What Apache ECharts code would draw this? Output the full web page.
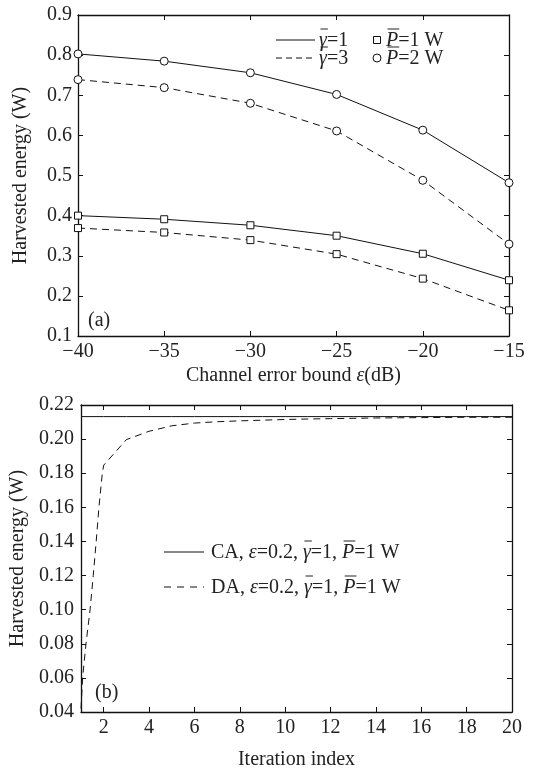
<!DOCTYPE html>
<html><head><meta charset="utf-8">
<script src="https://cdn.jsdelivr.net/npm/echarts@6/dist/echarts.min.js"></script>
<style>html,body{margin:0;padding:0;background:#fff}#c{width:537px;height:771px}</style>
</head><body><div id="c"></div>
<script>
// ---- Data (a) ----
const epsDb = [-40, -35, -30, -25, -20, -15];
const g1P2 = [0.803, 0.785, 0.756, 0.702, 0.613, 0.482];
const g3P2 = [0.739, 0.719, 0.680, 0.611, 0.488, 0.329];
const g1P1 = [0.400, 0.391, 0.376, 0.350, 0.305, 0.239];
const g3P1 = [0.369, 0.358, 0.339, 0.304, 0.243, 0.164];
// ---- Data (b) ----
const caIter = [1, 2, 3, 4, 5, 6, 7, 8, 9, 10, 11, 12, 13, 14, 15, 16, 17, 18, 19, 20];
const caVals = [0.2132, 0.2132, 0.2132, 0.2132, 0.2132, 0.2132, 0.2132, 0.2132, 0.2132, 0.2132,
                0.2132, 0.2132, 0.2132, 0.2132, 0.2132, 0.2132, 0.2132, 0.2132, 0.2132, 0.2132];
const daIter = [1, 1.07, 1.22, 1.40, 1.54, 1.67, 1.79, 1.94, 2, 3, 4, 5, 6, 7, 8, 9, 10, 11, 12, 13, 14, 15, 16, 17, 18, 19, 20];
const daVals = [0.042, 0.06, 0.08, 0.10, 0.12, 0.14, 0.16, 0.18, 0.1847, 0.1997, 0.2046, 0.2078, 0.2094, 0.2102, 0.2107,
                0.2111, 0.2115, 0.2118, 0.2120, 0.2122, 0.2124, 0.2125, 0.2126, 0.2127, 0.2128, 0.2128, 0.2128];
const xTicksB = [2, 4, 6, 8, 10, 12, 14, 16, 18, 20];

const FONT = 'Liberation Serif';
const TXT = '#222';
const FS = 20;
const zip = (xs, ys) => xs.map((x, i) => [x, ys[i]]);

const chart = echarts.init(document.getElementById('c'), null, {renderer: 'canvas'});

const lineAxis = {show: true, lineStyle: {color: '#111', width: 1.3}, onZero: false};
const tickIn = {show: true, inside: true, length: 5, lineStyle: {color: '#111', width: 1}};
const lbl = {color: TXT, fontFamily: FONT, fontSize: FS};

function mainAxisCommon(extra) {
  return Object.assign({type: 'value', axisLine: lineAxis, axisTick: tickIn, splitLine: {show: false},
    nameTextStyle: {color: TXT, fontFamily: FONT, fontSize: FS}}, extra);
}
function mirror(extra) {
  return Object.assign({type: 'value', axisLine: lineAxis, axisTick: tickIn, axisLabel: {show: false},
    splitLine: {show: false}}, extra);
}
const minusFmt = v => (v < 0 ? '\u2212' : '') + Math.abs(v);

// legend helper with overline + italics, positions measured by canvas
const mctx = document.createElement('canvas').getContext('2d');
function textRow(x, y, parts, size) {
  const els = [];
  let cx = x;
  parts.forEach(p => {
    const font = (p.i ? 'italic ' : '') + size + 'px "' + FONT + '"';
    mctx.font = font;
    const w = mctx.measureText(p.t).width;
    els.push({type: 'text', x: cx, y: y, style: {text: p.t, font: font, fill: TXT, textVerticalAlign: 'middle', textAlign: 'left'}});
    if (p.o) {
      els.push({type: 'line', shape: {x1: cx + 1.5, y1: y - size * 0.6, x2: cx + w + 1, y2: y - size * 0.6}, style: {stroke: TXT, lineWidth: 1}});
    }
    cx += w;
  });
  return els;
}

const graphics = [].concat(
  // legend (a)
  [{type: 'line', shape: {x1: 276, y1: 40, x2: 315, y2: 40}, style: {stroke: '#111', lineWidth: 1}},
   {type: 'line', shape: {x1: 276, y1: 58, x2: 315, y2: 58}, style: {stroke: '#111', lineWidth: 1, lineDash: [6, 4]}},
   {type: 'rect', shape: {x: 373.5, y: 36.5, width: 7, height: 7}, style: {stroke: '#111', fill: '#fff', lineWidth: 1}},
   {type: 'circle', shape: {cx: 377, cy: 58, r: 4}, style: {stroke: '#111', fill: '#fff', lineWidth: 1}}],
  textRow(319, 41, [{t: 'γ', i: true, o: true}, {t: '=1'}], FS),
  textRow(319, 59, [{t: 'γ', i: true, o: true}, {t: '=3'}], FS),
  textRow(386, 41, [{t: 'P', i: true, o: true}, {t: '=1 W'}], FS),
  textRow(386, 59, [{t: 'P', i: true, o: true}, {t: '=2 W'}], FS),
  textRow(88, 321, [{t: '(a)'}], FS),
  // legend (b)
  [{type: 'line', shape: {x1: 164, y1: 552, x2: 204, y2: 552}, style: {stroke: '#111', lineWidth: 1}},
   {type: 'line', shape: {x1: 164, y1: 587, x2: 204, y2: 587}, style: {stroke: '#111', lineWidth: 1, lineDash: [7, 6]}}],
  textRow(211, 553, [{t: 'CA, '}, {t: 'ε', i: true}, {t: '=0.2, '}, {t: 'γ', i: true, o: true}, {t: '=1, '}, {t: 'P', i: true, o: true}, {t: '=1 W'}], FS),
  textRow(211, 588, [{t: 'DA, '}, {t: 'ε', i: true}, {t: '=0.2, '}, {t: 'γ', i: true, o: true}, {t: '=1, '}, {t: 'P', i: true, o: true}, {t: '=1 W'}], FS),
  textRow(95, 693, [{t: '(b)'}], FS)
);

const symStyle = {color: '#fff', borderColor: '#111', borderWidth: 1};
function aSeries(vals, dashed, sym) {
  return {type: 'line', xAxisIndex: 0, yAxisIndex: 0, data: zip(epsDb, vals), symbol: sym === 'rect' ? 'rect' : 'circle',
    symbolSize: sym === 'rect' ? 7 : 8, itemStyle: symStyle, showSymbol: true,
    lineStyle: {color: '#111', width: 1, type: dashed ? [7, 5] : 'solid'}, animation: false, silent: true};
}

chart.setOption({
  animation: false,
  backgroundColor: '#fff',
  grid: [
    {left: 78, right: 28, top: 15, height: 321},
    {left: 81, right: 25, top: 405, height: 311}
  ],
  xAxis: [
    mainAxisCommon({gridIndex: 0, position: 'bottom', min: -40, max: -15, interval: 5,
      axisLabel: Object.assign({formatter: minusFmt, margin: 6}, lbl),
      name: '{n|Channel error bound }{i|ε}{n|(dB)}', nameLocation: 'middle', nameGap: 30,
      nameTextStyle: {rich: {n: {color: TXT, fontFamily: FONT, fontSize: FS}, i: {color: TXT, fontFamily: FONT, fontSize: FS, fontStyle: 'italic'}}}}),
    mirror({gridIndex: 0, position: 'top', min: -40, max: -15, interval: 5}),
    mainAxisCommon({gridIndex: 1, position: 'bottom', min: 1, max: 20,
      axisTick: Object.assign({customValues: xTicksB}, tickIn),
      axisLabel: Object.assign({customValues: xTicksB, margin: 6}, lbl),
      name: 'Iteration index', nameLocation: 'middle', nameGap: 38}),
    mirror({gridIndex: 1, position: 'top', min: 1, max: 20, axisTick: Object.assign({customValues: xTicksB}, tickIn)})
  ],
  yAxis: [
    mainAxisCommon({gridIndex: 0, position: 'left', min: 0.1, max: 0.9, interval: 0.1,
      axisLabel: Object.assign({formatter: v => v.toFixed(1), margin: 6}, lbl),
      name: 'Harvested energy (W)', nameLocation: 'middle', nameGap: 47}),
    mirror({gridIndex: 0, position: 'right', min: 0.1, max: 0.9, interval: 0.1}),
    mainAxisCommon({gridIndex: 1, position: 'left', min: 0.04, max: 0.22, interval: 0.02,
      axisLabel: Object.assign({formatter: v => v.toFixed(2), margin: 7}, lbl),
      name: 'Harvested energy (W)', nameLocation: 'middle', nameGap: 49}),
    mirror({gridIndex: 1, position: 'right', min: 0.04, max: 0.22, interval: 0.02})
  ],
  series: [
    aSeries(g1P2, false, 'circle'),
    aSeries(g3P2, true, 'circle'),
    aSeries(g1P1, false, 'rect'),
    aSeries(g3P1, true, 'rect'),
    {type: 'line', xAxisIndex: 2, yAxisIndex: 2, data: zip(caIter, caVals), showSymbol: false, symbol: 'none',
     lineStyle: {color: '#111', width: 1}, silent: true},
    {type: 'line', xAxisIndex: 2, yAxisIndex: 2, data: zip(daIter, daVals), showSymbol: false, symbol: 'none',
     lineStyle: {color: '#111', width: 1, type: [7, 5]}, silent: true}
  ],
  graphic: graphics
});
</script></body></html>
